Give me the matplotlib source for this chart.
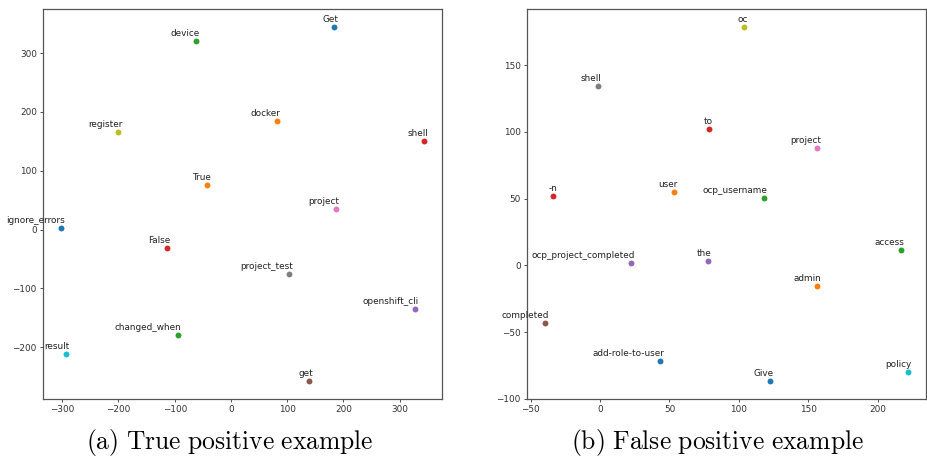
import matplotlib
matplotlib.use("Agg")
import matplotlib.pyplot as plt

# Left panel: true positive example (order follows default colour cycle)
tp_words = ["ignore_errors", "docker", "changed_when", "False", "openshift_cli",
            "get", "project", "project_test", "register", "result",
            "Get", "True", "device", "shell"]
tp_x = [-302, 81, -95, -114, 327, 139.5, 186, 103.5, -200, -294, 184, -43, -63, 343]
tp_y = [3, 184.5, -179, -32, -135, -258, 35, -75, 166, -212, 345, 76, 321, 151]

# Right panel: false positive example
fp_words = ["add-role-to-user", "user", "ocp_username", "to", "the",
            "completed", "project", "shell", "oc", "policy",
            "Give", "admin", "access", "-n", "ocp_project_completed"]
fp_x = [43.4, 53.2, 118, 78.2, 77.5, -39.6, 156.6, -1.7, 103.8, 221.8,
        122.5, 156.6, 216.5, -33.8, 22.3]
fp_y = [-71.6, 54.9, 50.7, 101.8, 3, -43.4, 87.9, 134, 178.7, -79.6,
        -86.8, -15.2, 11.2, 52.2, 1.8]

captions = ["(a) True positive example", "(b) False positive example"]

plt.rcParams["mathtext.fontset"] = "cm"

W, H = 927, 463
fig = plt.figure(figsize=(W / 100, H / 100), dpi=100)
ax1 = fig.add_axes([43 / W, 64 / H, 399 / W, 390 / H])
ax2 = fig.add_axes([527 / W, 64 / H, 399 / W, 390 / H])


def draw(ax, words, xs, ys):
    for w, x, y in zip(words, xs, ys):
        ax.scatter([x], [y], s=18, linewidths=0)
        ax.annotate(w, xy=(x, y), xytext=(4, 3), textcoords="offset pixels",
                    ha="right", va="bottom", fontsize=6.4, color="#222222")
    for sp in ax.spines.values():
        sp.set_color("#555555")
        sp.set_linewidth(0.9)
    ax.tick_params(labelsize=6.4, length=2.5, width=0.6, colors="#333333",
                   pad=2)


draw(ax1, tp_words, tp_x, tp_y)
draw(ax2, fp_words, fp_x, fp_y)

for i, (cap, cx) in enumerate(zip(captions, [229.5 / W, 717.5 / W])):
    fig.text(cx, 1 - 443 / H, r"$\mathrm{" + cap.replace(" ", r"\ ") + "}$",
             ha="center", va="center", fontsize=18.4)

fig.savefig("out.png", dpi=100)
